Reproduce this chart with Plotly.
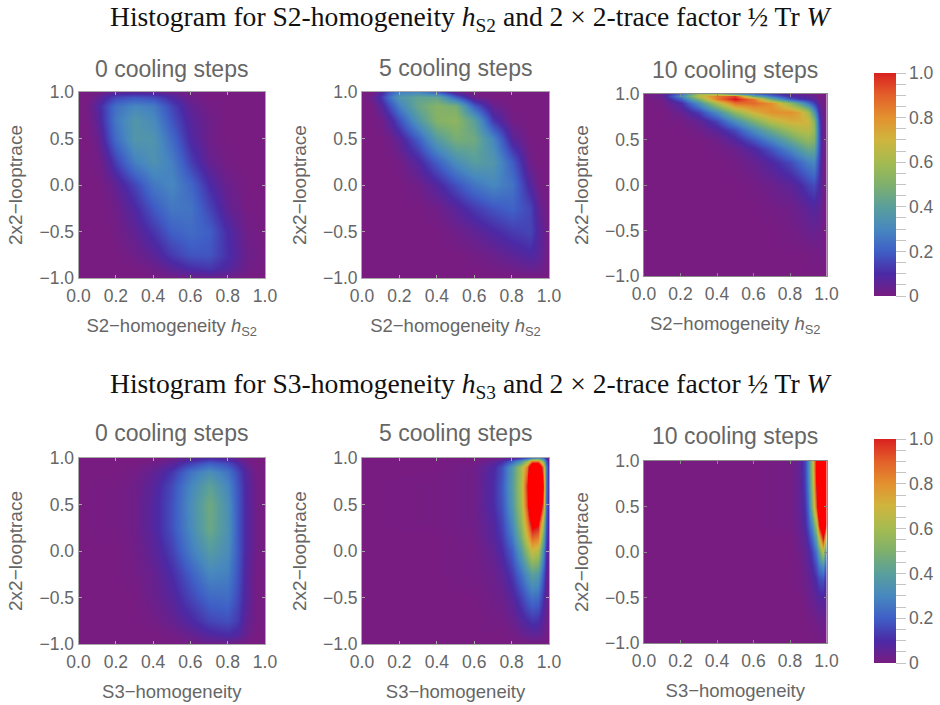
import plotly.graph_objects as go

# ---- data ----
TICKS_X = [0.0, 0.2, 0.4, 0.6, 0.8, 1.0]
TICKS_Y = [-1.0, -0.5, 0.0, 0.5, 1.0]

a_x = [0, .05, .1, .15, .2, .3, .4, .5, .6, .7, .8, .9, 1]
a_y = [1, .95, .85, .7, .5, .25, 0, -.25, -.5, -.75, -.9, -1]
a_z = [
 [0, 0, .01, .04, .06, .07, .06, .03, .01, 0, 0, 0, 0],
 [0, 0, .04, .1, .15, .18, .16, .09, .02, 0, 0, 0, 0],
 [0, .01, .08, .16, .24, .30, .27, .15, .05, .01, 0, 0, 0],
 [0, .005, .06, .16, .26, .36, .31, .18, .07, .02, 0, 0, 0],
 [0, 0, .03, .13, .23, .36, .35, .23, .09, .02, 0, 0, 0],
 [0, 0, .01, .06, .14, .28, .34, .28, .14, .04, .005, 0, 0],
 [0, 0, 0, .02, .05, .15, .26, .3, .22, .1, .03, 0, 0],
 [0, 0, 0, .005, .02, .09, .19, .26, .25, .15, .05, .005, 0],
 [0, 0, 0, 0, .01, .05, .12, .2, .23, .2, .1, .02, 0],
 [0, 0, 0, 0, 0, .02, .06, .13, .18, .18, .11, .03, 0],
 [0, 0, 0, 0, 0, 0, .02, .06, .1, .12, .08, .02, 0],
 [0, 0, 0, 0, 0, 0, 0, .01, .02, .03, .02, 0, 0],
]

b_x = [0, .05, .1, .15, .2, .3, .4, .5, .6, .7, .8, .9, .95, 1]
b_y = [1, .95, .85, .7, .5, .25, 0, -.25, -.5, -.75, -.9, -.99, -1]
b_z = [
 [0, 0, .08, .2, .28, .3, .2, .05, 0, 0, 0, 0, 0, 0],
 [0, .03, .12, .25, .35, .42, .42, .2, .03, 0, 0, 0, 0, 0],
 [0, 0, .07, .17, .28, .44, .52, .48, .2, .04, 0, 0, 0, 0],
 [0, 0, .02, .08, .17, .36, .52, .54, .4, .12, .01, 0, 0, 0],
 [0, 0, 0, .02, .06, .2, .38, .48, .46, .3, .07, 0, 0, 0],
 [0, 0, 0, 0, .01, .08, .2, .32, .39, .36, .2, .02, 0, 0],
 [0, 0, 0, 0, 0, .02, .08, .17, .25, .3, .25, .08, .01, 0],
 [0, 0, 0, 0, 0, 0, .02, .07, .13, .18, .21, .15, .04, 0],
 [0, 0, 0, 0, 0, 0, 0, .02, .05, .09, .13, .15, .07, 0],
 [0, 0, 0, 0, 0, 0, 0, 0, .01, .03, .06, .09, .06, 0],
 [0, 0, 0, 0, 0, 0, 0, 0, 0, .01, .02, .04, .03, 0],
 [0, 0, 0, 0, 0, 0, 0, 0, 0, 0, 0, 0, 0, 0],
 [0, 0, .1, .2, .2, .2, .15, .02, 0, 0, 0, 0, 0, 0],
]

c_x = [0, .1, .2, .3, .4, .5, .6, .7, .8, .85, .9, .93, .96, .98, 1]
c_y = [1, .98, .95, .9, .8, .7, .6, .5, .4, .25, 0, -.25, -.5, -.75, -.99, -1]
c_z = [
 [0, .03, .25, .6, .6, .4, .25, .15, .06, .05, .03, .02, 0, 0, 0],
 [0, .05, .3, .65, .85, .95, .45, .25, .1, .08, .06, .04, .01, 0, 0],
 [0, .02, .2, .5, .85, 1.02, .85, .45, .2, .13, .1, .07, .02, 0, 0],
 [0, .01, .1, .33, .62, .87, .88, .8, .55, .4, .25, .14, .05, .01, 0],
 [0, 0, .04, .14, .32, .55, .72, .8, .8, .75, .6, .35, .1, .02, 0],
 [0, 0, .01, .05, .15, .32, .5, .65, .72, .72, .7, .52, .15, .02, 0],
 [0, 0, 0, .02, .07, .16, .32, .46, .58, .63, .65, .55, .18, .02, 0],
 [0, 0, 0, 0, .02, .08, .18, .3, .43, .5, .55, .5, .18, .02, 0],
 [0, 0, 0, 0, .01, .03, .09, .18, .3, .37, .44, .42, .17, .02, 0],
 [0, 0, 0, 0, 0, .01, .04, .09, .16, .22, .28, .3, .14, .02, 0],
 [0, 0, 0, 0, 0, 0, .01, .03, .06, .09, .14, .16, .1, .02, 0],
 [0, 0, 0, 0, 0, 0, 0, .01, .02, .04, .06, .08, .06, .01, 0],
 [0, 0, 0, 0, 0, 0, 0, 0, .01, .02, .03, .04, .03, .01, 0],
 [0, 0, 0, 0, 0, 0, 0, 0, 0, 0, .005, .01, .01, .01, 0],
 [0, 0, 0, 0, 0, 0, 0, 0, 0, 0, 0, 0, 0, 0, 0],
 [0, .15, .2, .2, .15, .1, .05, 0, 0, 0, 0, 0, 0, 0, 0],
]

d_x = [0, .2, .3, .4, .5, .6, .7, .8, .85, .9, .95, 1]
d_y = [1, .95, .85, .7, .5, .25, 0, -.25, -.5, -.75, -.9, -1]
d_z = [
 [0, 0, 0, 0, .02, .06, .1, .07, .03, .01, 0, 0],
 [0, 0, 0, .02, .06, .14, .2, .16, .1, .03, 0, 0],
 [0, 0, .01, .05, .12, .25, .33, .25, .16, .07, .01, 0],
 [0, .005, .02, .07, .16, .3, .41, .3, .18, .08, .02, 0],
 [0, .005, .02, .08, .17, .32, .46, .33, .19, .08, .02, 0],
 [0, .005, .02, .08, .17, .31, .45, .34, .19, .08, .02, 0],
 [0, 0, .015, .06, .14, .27, .38, .32, .19, .08, .02, 0],
 [0, 0, .01, .04, .1, .2, .3, .28, .18, .07, .01, 0],
 [0, 0, 0, .03, .07, .15, .22, .23, .16, .07, .01, 0],
 [0, 0, 0, .01, .04, .09, .15, .17, .13, .05, .01, 0],
 [0, 0, 0, 0, .01, .04, .08, .1, .08, .03, 0, 0],
 [0, 0, 0, 0, 0, .01, .02, .02, .01, 0, 0, 0],
]

e_x = [0, .4, .6, .7, .75, .8, .85, .88, .91, .94, .97, .985, 1]
e_y = [1, .97, .9, .7, .5, .3, .15, 0, -.25, -.5, -.75, -.9, -1]
e_z = [
 [0, 0, 0, .01, .03, .07, .13, .2, .3, .35, .25, .1, 0],
 [0, 0, .01, .05, .1, .2, .35, .55, .85, .85, .5, .2, .01],
 [0, 0, .02, .09, .17, .36, .6, .85, 1.4, 1.4, .85, .3, .03],
 [0, .005, .02, .1, .19, .38, .62, 1.0, 1.6, 1.6, 1.0, .28, .05],
 [0, .005, .02, .1, .18, .36, .6, .95, 1.4, 1.4, .9, .25, .05],
 [0, .005, .02, .08, .15, .31, .55, .82, 1.1, 1.05, .6, .2, .04],
 [0, 0, .015, .07, .13, .26, .48, .7, .9, .85, .45, .17, .03],
 [0, 0, .01, .05, .1, .2, .38, .55, .68, .63, .33, .12, .02],
 [0, 0, .01, .03, .06, .13, .24, .33, .4, .37, .2, .08, .01],
 [0, 0, 0, .02, .03, .07, .14, .2, .24, .22, .12, .05, .01],
 [0, 0, 0, .01, .01, .03, .07, .1, .12, .11, .06, .03, 0],
 [0, 0, 0, 0, 0, .01, .03, .04, .05, .05, .03, .01, 0],
 [0, 0, 0, 0, 0, 0, 0, 0, 0, 0, 0, 0, 0],
]

f_x = [0, .6, .8, .85, .88, .9, .92, .94, .96, .98, 1]
f_y = [1, .9, .7, .5, .3, .15, 0, -.15, -.3, -.5, -.75, -.95, -.985, -1]
f_z = [
 [0, 0, .01, .05, .15, .3, .6, 1.05, 1.5, 1.5, 1.4],
 [0, 0, .01, .05, .15, .3, .6, 1.05, 1.6, 1.7, 1.5],
 [0, 0, .01, .05, .14, .27, .56, 1.0, 1.5, 1.7, 1.4],
 [0, 0, .01, .05, .12, .22, .5, .9, 1.3, 1.5, 1.2],
 [0, 0, .01, .04, .1, .17, .32, .6, 1.02, 1.3, .9],
 [0, 0, 0, .03, .07, .12, .22, .4, .7, 1.02, .5],
 [0, 0, 0, .02, .05, .08, .14, .25, .42, .65, .15],
 [0, 0, 0, .01, .04, .06, .1, .17, .27, .33, .1],
 [0, 0, 0, .01, .03, .04, .07, .11, .16, .18, .06],
 [0, 0, 0, 0, .015, .025, .04, .06, .08, .08, .02],
 [0, 0, 0, 0, 0, .01, .01, .02, .03, .03, 0],
 [0, 0, 0, 0, 0, 0, 0, .005, .01, .01, 0],
 [0, 0, 0, 0, 0, 0, 0, 0, 0, 0, 0],
 [0, 0, 0, 0, 0, 0, 0, 0, .15, .5, 1.2],
]

S2_LABEL = "S2\u2212homogeneity <i>h</i><sub>S2</sub>"
S3_LABEL = "S3\u2212homogeneity"
Y_LABEL = "2x2\u2212looptrace"
PANEL_TITLES = ["0 cooling steps", "5 cooling steps", "10 cooling steps"]
TITLE_S2 = "Histogram for S2-homogeneity <i>h</i><sub>S2</sub> and 2 \u00d7 2-trace factor \u00bd Tr <i>W</i>"
TITLE_S3 = "Histogram for S3-homogeneity <i>h</i><sub>S3</sub> and 2 \u00d7 2-trace factor \u00bd Tr <i>W</i>"

# ---- style ----
W, H = 940, 705
GREY = "#666666"
RAMP = [(0, "#781c81"), (.1, "#4b2aa6"), (.2, "#3f5fc6"), (.3, "#4788bf"), (.4, "#5a9f9b"),
        (.5, "#7fb06c"), (.6, "#a5bb50"), (.7, "#cfb53e"), (.8, "#e3912f"), (.9, "#e3602a"), (1, "#d92120")]
TOP = 1.02
SCALE_CLIP = [[p / TOP, c] for p, c in RAMP] + [[1.0, "#ff0000"]]
SCALE_BAR = [[p, c] for p, c in RAMP]
SERIF = "Liberation Serif"
SANS = "Liberation Sans"

def fx(px): return px / W
def fy(py): return 1 - py / H

panels = [
    (a_x, a_y, a_z, (78.5, 265), (92, 278), S2_LABEL, 69, 171),
    (b_x, b_y, b_z, (362, 549), (92, 278), S2_LABEL, 68, 455),
    (c_x, c_y, c_z, (644, 826.5), (94, 276), S2_LABEL, 70, 735),
    (d_x, d_y, d_z, (78.5, 265), (458, 644), S3_LABEL, 433, 171),
    (e_x, e_y, e_z, (362, 549), (458, 644), S3_LABEL, 433, 455),
    (f_x, f_y, f_z, (644, 826.5), (461, 643), S3_LABEL, 436, 735),
]
frames = ["#a8a8a8", "#a8a8a8", "#8a8a8a", "#a8a8a8", "#a8a8a8", "#8a8a8a"]

fig = go.Figure()
layout = {}
ann = []
for i, (x, y, z, xp, yp, xlab, ty, tx) in enumerate(panels):
    n = "" if i == 0 else str(i + 1)
    fig.add_trace(go.Heatmap(x=x, y=y, z=z, zmin=0, zmax=TOP, zsmooth="best", colorscale=SCALE_CLIP,
                             showscale=False, xaxis="x" + n, yaxis="y" + n))
    common = dict(showgrid=False, zeroline=False, showline=True, linecolor=frames[i], linewidth=1,
                  mirror="allticks", ticks="inside", ticklen=3, tickcolor=frames[i], tickwidth=1,
                  automargin=False,
                  tickfont=dict(family=SANS, size=17.5, color=GREY), layer="above traces")
    layout["xaxis" + n] = dict(common, domain=[fx(xp[0]), fx(xp[1])], range=[0, 1], tickvals=TICKS_X,
                               ticktext=["%.1f" % t for t in TICKS_X], anchor="y" + n, ticklabelstandoff=2,
                               title=dict(text=xlab, standoff=14, font=dict(family=SANS, size=18.5, color=GREY)))
    layout["yaxis" + n] = dict(common, domain=[fy(yp[1]), fy(yp[0])], range=[-1, 1], tickvals=TICKS_Y,
                               ticktext=[("\u2212%.1f" % -t) if t < 0 else "%.1f" % t for t in TICKS_Y],
                               anchor="x" + n,
                               title=dict(text=Y_LABEL, standoff=11, font=dict(family=SANS, size=19, color=GREY)))
    ann.append(dict(text=PANEL_TITLES[i % 3], x=fx(tx), y=fy(ty), xref="paper", yref="paper",
                    xanchor="center", yanchor="middle", showarrow=False,
                    font=dict(family=SANS, size=23, color=GREY)))

for txt, py in ((TITLE_S2, 18), (TITLE_S3, 385)):
    ann.append(dict(text=txt, x=fx(471), y=fy(py), xref="paper", yref="paper", xanchor="center",
                    yanchor="middle", showarrow=False, font=dict(family=SERIF, size=27.6, color="#111111")))

BAR_VALS = [k / 20 for k in range(21)]
BAR_TEXT = [("0" if k == 0 else "%.1f" % (k / 20)) if k % 4 == 0 else "" for k in range(21)]
for y0, y1 in ((73, 296), (439, 663)):
    fig.add_trace(go.Scatter(x=[.5], y=[0], mode="markers", hoverinfo="skip", showlegend=False,
                             marker=dict(opacity=0, size=1, color=[0.5], cmin=0, cmax=1, colorscale=SCALE_BAR,
                                         showscale=True,
                                         colorbar=dict(x=fx(874), xanchor="left", thickness=22, thicknessmode="pixels",
                                                       y=fy(y1), yanchor="bottom", len=(y1 - y0) / H, lenmode="fraction",
                                                       ypad=0, xpad=0, outlinewidth=0, tickvals=BAR_VALS, ticktext=BAR_TEXT,
                                                       ticks="outside", ticklen=10, tickcolor="#c4c4c4", tickwidth=1,
                                                       tickfont=dict(family=SANS, size=17.5, color=GREY)))))

fig.update_layout(width=W, height=H, autosize=False, margin=dict(l=0, r=0, t=0, b=0), showlegend=False,
                  paper_bgcolor="white", plot_bgcolor="white", annotations=ann, **layout)
fig.write_html("out.html", post_script="document.body.style.margin='0';", config={"displayModeBar": False})
